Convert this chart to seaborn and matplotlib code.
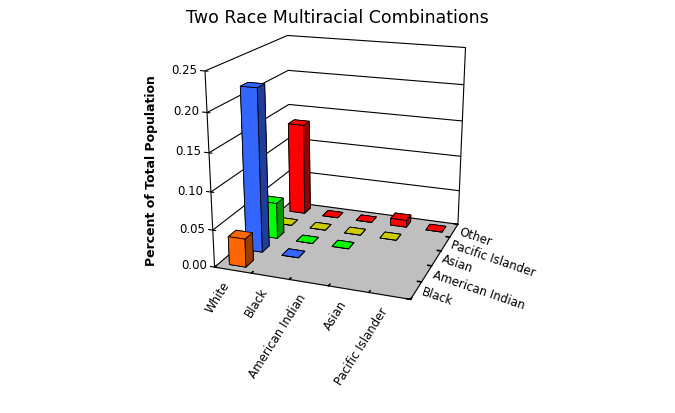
import numpy as np
import pandas as pd
import matplotlib
matplotlib.use("Agg")
import matplotlib.pyplot as plt
import matplotlib.colors as mcolors
import seaborn as sns
from mpl_toolkits.mplot3d import proj3d

title = "Two Race Multiracial Combinations"
ylabel = "Percent of Total Population"
x_categories = ["White", "Black", "American Indian", "Asian", "Pacific Islander"]
depth_categories = ["Black", "American Indian", "Asian", "Pacific Islander", "Other"]

# values for each depth row, one per x category (triangular: only existing combinations)
black_vals = [0.038]
american_indian_vals = [0.219, 0.0]
asian_vals = [0.050, 0.0, 0.0]
pacific_islander_vals = [0.0, 0.0, 0.0, 0.0]
other_vals = [0.132, 0.0, 0.0, 0.010, 0.0]
row_colors = ["#FF6600", "#3366FF", "#00FF00", "#CCCC00", "#FF0000"]
z_ticks = [0.00, 0.05, 0.10, 0.15, 0.20, 0.25]

rows = [black_vals, american_indian_vals, asian_vals, pacific_islander_vals, other_vals]
records = []
for j, vals in enumerate(rows):
    for i, v in enumerate(vals):
        records.append({"x": x_categories[i], "depth": depth_categories[j],
                        "xi": i, "yi": j, "value": v, "color": row_colors[j]})
df = pd.DataFrame(records)

sns.set_theme(style="white")
plt.rcParams["font.family"] = ["DejaVu Sans"]
plt.rcParams["text.color"] = "black"

fig = plt.figure(figsize=(6.75, 4.13), dpi=100)
ax = fig.add_axes([0.0, 0.112, 1.0, 1.0], projection="3d")
ax.set_proj_type("persp", focal_length=0.4)
ax.view_init(elev=18, azim=-70)
ax.set_box_aspect((1.0, 0.95, 0.985), zoom=0.79)

nx, ny = len(x_categories), len(depth_categories)
bw = 0.45
dfs = df.sort_values(["yi", "xi"], ascending=[False, True])
face_colors = []
for c in dfs["color"]:
    base = np.array(mcolors.to_rgb(c))
    dark = base * 0.6
    # faces: bottom, top, front, back, left, right
    face_colors += [base, base, base, base, dark, dark]
ax.bar3d(dfs["xi"] + 0.5 - bw / 2, dfs["yi"] + 0.5 - bw / 2, np.zeros(len(dfs)),
         bw, bw, dfs["value"], color=face_colors, shade=False,
         edgecolor="black", linewidth=0.6)

ax.set_xlim(0, nx)
ax.set_ylim(0, ny)
ax.set_zlim(0, z_ticks[-1])
ax.set_xticks(range(nx + 1))
ax.set_yticks(range(ny + 1))
ax.set_zticks(z_ticks)
ax.set_xticklabels([])
ax.set_yticklabels([])
ax.set_zticklabels([])

for axis in (ax.xaxis, ax.yaxis):
    axis._axinfo["grid"]["linewidth"] = 0
    axis._axinfo["grid"]["color"] = (1, 1, 1, 0)
ax.zaxis._axinfo["grid"]["color"] = "black"
ax.zaxis._axinfo["grid"]["linewidth"] = 0.8
for axis in (ax.xaxis, ax.yaxis, ax.zaxis):
    axis._axinfo["tick"]["inward_factor"] = 0.0
    axis._axinfo["tick"]["outward_factor"] = 0.25
    axis.line.set_color("black")
    axis.line.set_linewidth(0.8)
    axis.pane.set_edgecolor("black")
    axis.pane.set_linewidth(0.8)
ax.zaxis._axinfo["tick"]["outward_factor"] = 0.0
ax.zaxis.line.set_color((1, 1, 1, 0))
ax.xaxis.set_pane_color((1, 1, 1, 1))
ax.yaxis.set_pane_color((1, 1, 1, 1))
ax.zaxis.set_pane_color((0.75, 0.75, 0.75, 1))
ax.tick_params(axis="both", colors="black", pad=0)

# front-left vertical value axis with ticks, and back-right wall edge
ax.plot([0, 0], [0, 0], [0, z_ticks[-1]], color="black", lw=0.8)
ax.plot([nx, nx], [ny, ny], [0, z_ticks[-1]], color="black", lw=0.8)
for t in z_ticks:
    ax.plot([-0.12, 0.08], [0, 0], [t, t], color="black", lw=0.8)

fig.canvas.draw()
M = ax.get_proj()

def to2d(x, y, z):
    x2, y2, _ = proj3d.proj_transform(x, y, z, M)
    return x2, y2

for t in z_ticks:
    px, py = to2d(-0.2, 0, t)
    ax.text2D(px, py, f"{t:.2f}", transform=ax.transData, ha="right",
              va="center", fontsize=8.5, color="black")
for i, lab in enumerate(x_categories):
    px, py = to2d(i + 0.5, -0.35, -0.009)
    ax.text2D(px, py, lab, transform=ax.transData, rotation=58, ha="right",
              va="center", rotation_mode="anchor", fontsize=8.5, color="black")
for j, lab in enumerate(depth_categories):
    px, py = to2d(nx + 0.15, j + 0.5, 0)
    ax.text2D(px, py, lab, transform=ax.transData, rotation=-19, ha="left",
              va="center", rotation_mode="anchor", fontsize=8.5, color="black")

fig.text(0.5, 0.956, title, ha="center", va="center", fontsize=12.5, color="black")
fig.text(0.225, 0.588, ylabel, ha="center", va="center", rotation=90,
         fontsize=9, fontweight="bold", color="black")

fig.savefig("out.png", dpi=100)
